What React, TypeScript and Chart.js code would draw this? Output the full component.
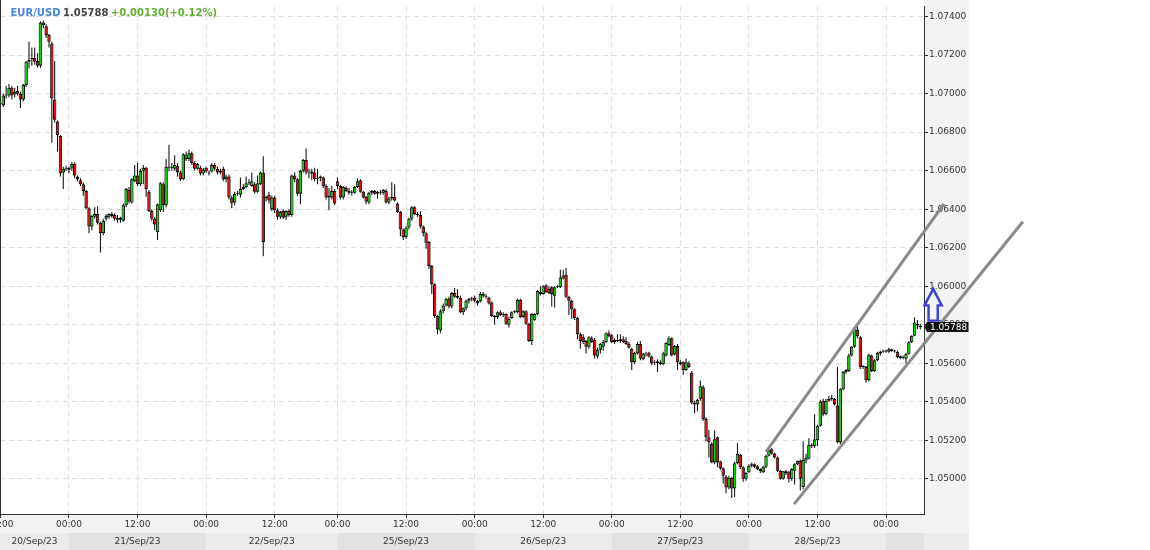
import React, { useEffect, useRef } from 'react';
import { Chart, registerables } from 'chart.js';

Chart.register(...registerables);

// ---------- text ----------
const symbolText = 'EUR/USD';
const changeText = '+0.00130(+0.12%)';

// ---------- time categories (30-minute candles) ----------
const dayLabels = ['20/Sep/23', '21/Sep/23', '22/Sep/23', '25/Sep/23', '26/Sep/23', '27/Sep/23', '28/Sep/23', '29/Sep/23'];
const dayStartHour = [12, 0, 0, 0, 0, 0, 0, 0];
const dayCandleCounts = [24, 48, 46, 48, 48, 48, 48, 13];
const tickHours = ['00:00', '12:00'];

// ---------- price axis ----------
const yTickValues = [1.05, 1.052, 1.054, 1.056, 1.058, 1.06, 1.062, 1.064, 1.066, 1.068, 1.07, 1.072, 1.074];
const yMin = 1.04817;
const yMax = 1.07453;

// ---------- OHLC (units of 0.00001) ----------
const opens = [
  106950,106940,106990,106990,107030,106995,107015,107000,106970,107045,107165,107180,107185,107170,107145,107370,107350,107305,107260,106970,
  106855,106780,106590,106610,106605,106615,106635,106570,106550,106530,106495,106405,106310,106360,106375,106330,106275,106350,106360,106375,
  106370,106355,106355,106340,106420,106500,106435,106545,106575,106530,106600,106615,106490,106390,106350,106280,106395,106530,106420,106620,
  106615,106610,106625,106590,106555,106660,106660,106690,106640,106610,106615,106585,106615,106590,106595,106630,106610,106590,106610,106555,
  106570,106460,106435,106485,106475,106505,106515,106535,106520,106530,106490,106530,106590,106465,106475,106400,106460,106395,106360,106390,
  106360,106390,106370,106575,106555,106480,106600,106655,106590,106585,106590,106555,106560,106565,106520,106460,106460,106495,106545,106520,
  106460,106510,106495,106485,106485,106515,106550,106490,106465,106435,106485,106495,106480,106490,106485,106495,106435,106455,106465,106430,
  106385,106295,106255,106305,106350,106410,106375,106370,106310,106275,106230,106105,106010,105845,105770,105870,105900,105935,105895,105965,
  105950,105940,105865,105885,105925,105935,105940,105910,105920,105960,105950,105940,105915,105845,105840,105865,105850,105855,105800,105835,
  105865,105865,105930,105840,105870,105805,105715,105825,105855,105970,105960,106005,105985,105995,105950,105995,105995,106040,106060,105945,
  105925,105880,105835,105750,105735,105715,105685,105730,105720,105635,105670,105685,105710,105755,105745,105710,105720,105715,105725,105715,
  105700,105675,105605,105650,105700,105620,105650,105655,105635,105600,105610,105605,105595,105640,105695,105730,105645,105690,105605,105605,
  105565,105600,105550,105395,105385,105415,105475,105310,105215,105180,105085,105215,105090,105055,105010,104955,105005,104950,105080,105125,
  105060,105000,105034,105068,105075,105065,105051,105034,105063,105119,105153,105131,105110,105042,105000,105039,105034,105000,105042,105076,
  105094,104957,105095,105105,105175,105170,105200,105275,105405,105335,105405,105415,105415,105380,105190,105465,105555,105560,105640,105685,
  105775,105735,105580,105580,105512,105640,105560,105615,105650,105660,105663,105660,105672,105664,105660,105636,105630,105623,105649,105709,
  105743,105805,105795
];
const highs = [
  106970,107000,107040,107050,107040,107030,107040,107010,107050,107170,107270,107240,107240,107210,107375,107380,107360,107310,107270,107170,
  106860,106785,106620,106625,106620,106645,106645,106575,106560,106540,106500,106410,106370,106410,106415,106335,106350,106375,106380,106385,
  106380,106370,106360,106430,106510,106515,106560,106630,106640,106610,106630,106620,106500,106400,106360,106430,106540,106540,106660,106735,
  106640,106680,106640,106600,106690,106700,106710,106700,106650,106640,106625,106615,106620,106600,106640,106640,106620,106610,106620,106580,
  106580,106470,106490,106495,106565,106530,106570,106555,106590,106540,106575,106595,106675,106470,106490,106470,106470,106405,106390,106400,
  106395,106400,106580,106590,106560,106605,106660,106715,106610,106610,106615,106610,106575,106570,106530,106510,106520,106505,106565,106525,
  106520,106520,106510,106500,106520,106560,106555,106495,106470,106490,106500,106500,106495,106500,106505,106505,106465,106540,106530,106435,
  106390,106300,106310,106355,106415,106415,106385,106390,106315,106280,106235,106110,106015,105850,105880,105910,105940,105945,105970,105990,
  105985,105950,105890,105930,105940,105945,105950,105930,105970,105970,105960,105945,105920,105850,105870,105875,105865,105860,105840,105870,
  105875,105935,105935,105875,105875,105810,105860,105860,105980,106000,106005,106010,106000,106000,106000,106005,106085,106085,106095,105950,
  105930,105885,105840,105760,105750,105720,105740,105740,105730,105680,105705,105720,105760,105770,105750,105730,105750,105750,105740,105735,
  105710,105680,105660,105710,105715,105655,105660,105660,105640,105615,105620,105615,105660,105710,105740,105735,105695,105700,105615,105610,
  105625,105610,105560,105405,105415,105510,105485,105320,105255,105190,105250,105220,105095,105060,105020,105015,105010,105090,105185,105130,
  105065,105035,105075,105085,105080,105070,105055,105068,105125,105165,105160,105135,105115,105045,105040,105045,105040,105055,105080,105095,
  105100,105195,105130,105210,105185,105335,105280,105410,105415,105415,105430,105435,105420,105580,105470,105560,105570,105650,105690,105785,
  105795,105740,105590,105585,105650,105645,105620,105660,105665,105670,105670,105680,105675,105670,105665,105640,105640,105655,105715,105745,
  105837,105825,105805
];
const lows = [
  106930,106930,106975,106980,106970,106980,106990,106925,106960,107035,107130,107145,107150,107135,107135,107340,107290,107240,106745,106850,
  106700,106570,106505,106600,106585,106600,106560,106545,106520,106470,106400,106275,106290,106350,106320,106175,106265,106340,106350,106355,
  106340,106330,106330,106335,106410,106430,106430,106540,106520,106520,106530,106465,106385,106340,106290,106240,106385,106385,106410,106595,
  106600,106600,106570,106545,106550,106650,106650,106630,106600,106605,106575,106575,106590,106575,106590,106600,106580,106580,106545,106540,
  106450,106405,106420,106470,106460,106500,106510,106525,106515,106480,106485,106525,106155,106440,106430,106390,106380,106345,106350,106350,
  106345,106360,106360,106540,106470,106425,106590,106580,106560,106550,106545,106530,106545,106510,106450,106395,106450,106420,106505,106450,
  106450,106490,106475,106470,106480,106510,106485,106455,106425,106425,106475,106475,106455,106475,106475,106430,106425,106445,106440,106380,
  106260,106240,106245,106295,106340,106370,106360,106300,106260,106195,106090,105960,105835,105750,105755,105860,105895,105885,105885,105940,
  105935,105860,105850,105875,105910,105920,105915,105900,105915,105940,105935,105905,105840,105800,105830,105845,105840,105800,105785,105830,
  105860,105860,105835,105835,105800,105710,105695,105820,105850,105950,105955,105965,105960,105895,105890,105990,105990,106035,105940,105850,
  105830,105825,105725,105675,105700,105650,105675,105705,105625,105625,105650,105665,105705,105735,105705,105700,105710,105705,105705,105695,
  105675,105565,105595,105645,105615,105615,105635,105630,105590,105590,105555,105590,105590,105635,105690,105635,105640,105565,105590,105540,
  105560,105575,105385,105340,105350,105405,105300,105195,105110,105080,105075,105060,105045,104975,104925,104945,104900,104905,105075,105050,
  104985,104990,105030,105060,105055,105045,105030,105030,105055,105115,105125,105105,105035,104995,104995,105020,104980,104990,104970,105070,
  104940,104945,105080,105100,105160,105160,105170,105270,105325,105330,105400,105405,105380,105185,105180,105460,105545,105555,105635,105680,
  105730,105570,105570,105500,105505,105555,105555,105610,105640,105655,105655,105655,105660,105655,105625,105620,105620,105598,105645,105705,
  105740,105777,105775
];
const closes = [
  106945,106990,106995,107030,106990,107010,107000,106970,107045,107165,107175,107185,107165,107145,107370,107355,107305,107270,106975,106865,
  106785,106585,106610,106615,106615,106635,106575,106555,106530,106495,106405,106310,106365,106375,106330,106275,106340,106365,106375,106365,
  106350,106345,106345,106420,106505,106440,106555,106575,106530,106600,106615,106505,106390,106350,106320,106425,106535,106420,106620,106615,
  106620,106630,106590,106555,106685,106680,106690,106640,106610,106635,106585,106605,106595,106585,106630,106610,106590,106600,106555,106570,
  106460,106430,106480,106480,106505,106515,106535,106540,106545,106490,106535,106590,106230,106455,106445,106460,106395,106360,106385,106355,
  106390,106370,106575,106555,106480,106600,106655,106590,106585,106595,106555,106560,106570,106520,106460,106470,106495,106430,106520,106460,
  106515,106495,106485,106490,106515,106545,106490,106460,106440,106485,106495,106480,106490,106485,106500,106435,106455,106465,106445,106385,
  106295,106255,106305,106350,106410,106375,106370,106310,106275,106225,106105,106010,105845,105775,105870,105900,105935,105895,105965,105945,
  105940,105865,105885,105925,105935,105940,105925,105925,105960,105950,105945,105910,105845,105840,105865,105850,105855,105805,105830,105865,
  105870,105930,105840,105870,105805,105715,105855,105855,105975,105960,106000,105970,105965,105960,105995,106000,106045,106055,105945,105925,
  105880,105835,105750,105715,105710,105685,105735,105710,105640,105670,105700,105710,105755,105740,105710,105720,105715,105725,105710,105700,
  105680,105605,105655,105700,105625,105650,105655,105635,105600,105605,105600,105595,105650,105705,105730,105640,105690,105605,105595,105565,
  105605,105580,105395,105385,105410,105480,105310,105215,105190,105085,105205,105085,105055,105015,104955,105005,104950,105080,105130,105060,
  105000,105030,105068,105076,105063,105051,105039,105063,105119,105148,105131,105110,105042,105000,105039,105030,105000,105051,105076,105094,
  105000,105097,105110,105175,105170,105205,105275,105400,105335,105405,105415,105418,105385,105190,105465,105555,105565,105640,105685,105775,
  105740,105580,105585,105512,105644,105560,105615,105655,105660,105663,105665,105672,105664,105662,105632,105627,105632,105649,105709,105743,
  105812,105795,105788
];

// ---------- drawn annotations (data space: candle index, price) ----------
const channelUpper = [[267.96, 1.0514], [330.3, 1.06427]];
const channelLower = [[277.8, 1.04868], [357.9, 1.06335]];
const arrowAnno = { x: 326.5, base: 1.05821, tip: 1.05986 };

// ---------- styles ----------
const UP = '#00dd00';
const DOWN = '#f00000';
const GRID = '#dedede';
const AXIS = '#333333';
const PANEL = '#f2f3f5';
const BAND_LIGHT = '#eaebed';
const BAND_DARK = '#e1e2e4';
const FONT = '"DejaVu Sans", Verdana, sans-serif';

function buildTimes() {
  const times: string[] = [];
  const dayStarts: number[] = [];
  dayCandleCounts.forEach((n, d) => {
    dayStarts.push(times.length);
    for (let k = 0; k < n; k++) {
      const m = dayStartHour[d] * 60 + k * 30;
      times.push(String(Math.floor(m / 60)).padStart(2, '0') + ':' + String(m % 60).padStart(2, '0'));
    }
  });
  return { times, dayStarts };
}

export default function App() {
  const ref = useRef<HTMLCanvasElement>(null);

  useEffect(() => {
    const canvas = ref.current;
    if (!canvas) return;
    const { times, dayStarts } = buildTimes();
    const n = closes.length;
    const tickIdx = times.map((t, i) => (tickHours.includes(t) ? i : -1)).filter((i) => i >= 0 && i < n + 1);

    const sc = 1e5;
    const minBody = 0.00005;
    const bodies = closes.map((c, i) => {
      let lo = Math.min(opens[i], c) / sc;
      let hi = Math.max(opens[i], c) / sc;
      if (hi - lo < minBody) {
        const mid = (hi + lo) / 2;
        lo = mid - minBody / 2;
        hi = mid + minBody / 2;
      }
      return { x: i, y: [lo, hi] };
    });
    const wicks = closes.map((_, i) => ({ x: i, y: [lows[i] / sc, highs[i] / sc] }));
    const bodyColors = closes.map((c, i) => (c >= opens[i] ? UP : DOWN));
    const lastPrice = (closes[n - 1] / sc).toFixed(5);

    const decor = {
      id: 'decor',
      beforeDraw(chart: any) {
        const { ctx, chartArea: ca, scales } = chart;
        const xs = scales.x, ys = scales.y;
        const W = chart.width, H = chart.height;
        ctx.save();
        ctx.fillStyle = '#ffffff';
        ctx.fillRect(0, 0, W, H);
        ctx.fillStyle = PANEL;
        ctx.fillRect(ys.left, 0, ys.right - ys.left, H);
        const timeRowH = 19;
        ctx.fillRect(0, ca.bottom, ys.left, timeRowH);
        const bandTop = ca.bottom + timeRowH;
        ctx.fillStyle = BAND_LIGHT;
        ctx.fillRect(0, bandTop, ys.right, H - bandTop);
        dayStarts.forEach((s, d) => {
          const x0 = d === 0 ? ca.left : xs.getPixelForValue(s);
          const x1 = d === dayStarts.length - 1 ? ca.right : xs.getPixelForValue(dayStarts[d + 1]);
          ctx.fillStyle = d % 2 === 0 ? BAND_LIGHT : BAND_DARK;
          ctx.fillRect(x0, bandTop, x1 - x0, H - bandTop);
        });
        ctx.restore();
      },
      afterDraw(chart: any) {
        const { ctx, chartArea: ca, scales } = chart;
        const xs = scales.x, ys = scales.y;
        const H = chart.height;
        const timeRowH = 19;
        ctx.save();
        ctx.fillStyle = AXIS;
        ctx.fillRect(0, 0, 1, ca.bottom);

        ctx.font = `9px ${FONT}`;
        ctx.fillStyle = AXIS;
        ctx.textAlign = 'center';
        ctx.textBaseline = 'middle';
        tickIdx.forEach((i) => {
          ctx.fillText(times[i], xs.getPixelForValue(i), ca.bottom + 10.5);
        });
        const bandTop = ca.bottom + timeRowH;
        dayStarts.forEach((s, d) => {
          if (d === dayStarts.length - 1) return;
          const x0 = d === 0 ? ca.left : xs.getPixelForValue(s);
          const x1 = xs.getPixelForValue(dayStarts[d + 1]);
          ctx.fillText(dayLabels[d], (x0 + x1) / 2, bandTop + (H - bandTop) / 2 + 0.5);
        });

        ctx.strokeStyle = '#8a8a8a';
        ctx.lineWidth = 3;
        [channelUpper, channelLower].forEach((seg) => {
          ctx.beginPath();
          ctx.moveTo(xs.getPixelForValue(seg[0][0]), ys.getPixelForValue(seg[0][1]));
          ctx.lineTo(xs.getPixelForValue(seg[1][0]), ys.getPixelForValue(seg[1][1]));
          ctx.stroke();
        });

        const yc = ys.getPixelForValue(closes[n - 1] / sc);
        ctx.fillStyle = '#111111';
        ctx.beginPath();
        ctx.moveTo(ys.left + 0.5, yc);
        ctx.lineTo(ys.left + 3, yc - 5);
        ctx.lineTo(ys.right - 0.5, yc - 5);
        ctx.lineTo(ys.right - 0.5, yc + 5);
        ctx.lineTo(ys.left + 3, yc + 5);
        ctx.closePath();
        ctx.fill();
        ctx.fillStyle = '#ffffff';
        ctx.textAlign = 'left';
        ctx.fillText(lastPrice, ys.left + 6, yc + 0.5);

        const ax = xs.getPixelForValue(arrowAnno.x);
        const yTip = ys.getPixelForValue(arrowAnno.tip);
        const yBase = ys.getPixelForValue(arrowAnno.base);
        const headLen = 16.5, headHalf = 8.6, shaftHalf = 4.6;
        ctx.strokeStyle = '#3d3dd8';
        ctx.lineWidth = 2.4;
        ctx.lineJoin = 'miter';
        ctx.beginPath();
        ctx.moveTo(ax, yTip);
        ctx.lineTo(ax + headHalf, yTip + headLen);
        ctx.lineTo(ax + shaftHalf, yTip + headLen);
        ctx.lineTo(ax + shaftHalf, yBase);
        ctx.lineTo(ax - shaftHalf, yBase);
        ctx.lineTo(ax - shaftHalf, yTip + headLen);
        ctx.lineTo(ax - headHalf, yTip + headLen);
        ctx.closePath();
        ctx.stroke();

        ctx.font = `bold 10px ${FONT}`;
        ctx.textBaseline = 'alphabetic';
        ctx.textAlign = 'left';
        let lx = 10.5;
        const ly = 15.5;
        const parts: [string, string][] = [[symbolText, '#4a86e8'], [lastPrice, '#444444'], [changeText, '#63b132']];
        parts.forEach(([t, col]) => {
          ctx.fillStyle = col;
          ctx.fillText(t, lx, ly);
          lx += ctx.measureText(t).width + 2.5;
        });
        ctx.restore();
      },
    };

    const chart = new Chart(canvas, {
      type: 'bar',
      data: {
        datasets: [
          {
            data: bodies as any,
            backgroundColor: bodyColors,
            borderColor: '#000000',
            borderWidth: 1,
            borderSkipped: false,
            barThickness: 3.4,
            grouped: false,
            inflateAmount: 0,
            order: 0,
          } as any,
          {
            data: wicks as any,
            backgroundColor: '#000000',
            borderWidth: 0,
            barThickness: 1,
            grouped: false,
            inflateAmount: 0,
            order: 1,
          } as any,
        ],
      },
      options: {
        responsive: false,
        devicePixelRatio: 1,
        animation: false,
        events: [],
        layout: { padding: { left: 0, top: 0, right: 181, bottom: 0 } },
        plugins: { legend: { display: false }, tooltip: { enabled: false } },
        scales: {
          x: {
            type: 'linear',
            offset: false,
            min: -0.15,
            max: n + 0.3,
            afterBuildTicks: (s: any) => {
              s.ticks = tickIdx.map((v) => ({ value: v }));
            },
            afterFit: (s: any) => {
              s.height = 36;
            },
            ticks: { display: false },
            grid: { offset: false, color: GRID, lineWidth: 1, drawTicks: true, tickLength: 4, tickColor: AXIS },
            border: { display: true, color: AXIS, width: 1, dash: [5, 4] },
          },
          y: {
            type: 'linear',
            position: 'right',
            min: yMin,
            max: yMax,
            afterBuildTicks: (s: any) => {
              s.ticks = yTickValues.map((v) => ({ value: v }));
            },
            afterFit: (s: any) => {
              s.width = 45;
            },
            ticks: {
              autoSkip: false,
              padding: 1,
              color: AXIS,
              font: { family: FONT, size: 9 },
              callback: (v: any) => Number(v).toFixed(5),
            },
            grid: { offset: false, color: GRID, lineWidth: 1, drawTicks: true, tickLength: 4, tickColor: AXIS },
            border: { display: true, color: AXIS, width: 1, dash: [5, 4] },
          },
        },
      } as any,
      plugins: [decor],
    });

    return () => chart.destroy();
  }, []);

  return (
    <canvas
      ref={ref}
      width={1150}
      height={550}
      style={{ position: 'fixed', left: 0, top: 0, width: '1150px', height: '550px', display: 'block' }}
    />
  );
}
